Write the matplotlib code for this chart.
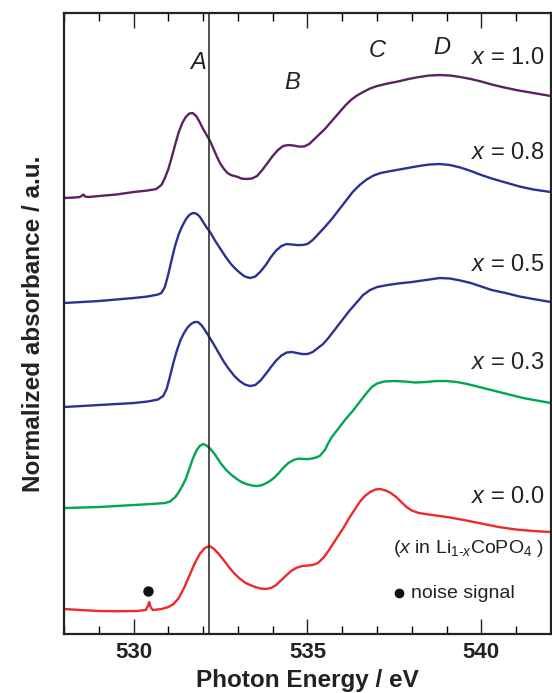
import matplotlib
matplotlib.use("Agg")
import matplotlib.pyplot as plt
from matplotlib.ticker import MultipleLocator

plt.rcParams['font.family'] = ['Liberation Sans', 'DejaVu Sans']
plt.rcParams['mathtext.fontset'] = 'custom'
plt.rcParams['mathtext.rm'] = 'Liberation Sans'
plt.rcParams['mathtext.it'] = 'Liberation Sans:italic'
plt.rcParams['mathtext.bf'] = 'Liberation Sans:bold'

# ---- data (photon energy in eV, normalized absorbance incl. vertical offsets, a.u.) ----
e_10 = [528.0, 528.3, 528.45, 528.52, 528.56, 528.6, 528.7, 529.0, 529.5, 530.0, 530.4, 530.65,
        530.8, 530.9, 531.0, 531.1, 531.2, 531.3, 531.4, 531.5, 531.6, 531.7, 531.8, 531.9,
        532.0, 532.1, 532.2, 532.3, 532.4, 532.5, 532.6, 532.7, 532.8, 532.9, 533.0, 533.1,
        533.25, 533.4, 533.55, 533.7, 533.85, 534.0, 534.15, 534.3, 534.45, 534.6, 534.75,
        534.9, 535.05, 535.2, 535.35, 535.5, 535.65, 535.8, 535.95, 536.1, 536.25, 536.4,
        536.6, 536.8, 537.0, 537.3, 537.6, 537.9, 538.2, 538.5, 538.8, 539.1, 539.4, 539.7,
        540.0, 540.3, 540.6, 541.0, 541.5, 542.0]
a_10 = [4.36, 4.365, 4.37, 4.385, 4.395, 4.375, 4.37, 4.38, 4.395, 4.42, 4.435, 4.45,
        4.49, 4.56, 4.65, 4.77, 4.90, 5.02, 5.11, 5.17, 5.205, 5.21, 5.18, 5.12,
        5.05, 4.99, 4.93, 4.85, 4.77, 4.70, 4.65, 4.61, 4.59, 4.58, 4.57, 4.555,
        4.55, 4.555, 4.58, 4.64, 4.71, 4.78, 4.84, 4.88, 4.89, 4.885, 4.875,
        4.875, 4.90, 4.95, 5.00, 5.05, 5.11, 5.17, 5.23, 5.29, 5.34, 5.38,
        5.42, 5.455, 5.48, 5.505, 5.525, 5.55, 5.57, 5.585, 5.59, 5.585, 5.57, 5.55,
        5.525, 5.495, 5.47, 5.44, 5.41, 5.38]

e_08 = [528.0, 528.5, 529.0, 529.5, 530.0, 530.4, 530.7, 530.8, 530.9, 531.0, 531.1, 531.2,
        531.3, 531.4, 531.5, 531.6, 531.7, 531.8, 531.9, 532.0, 532.1, 532.2, 532.35, 532.5,
        532.65, 532.8, 532.95, 533.1, 533.2, 533.35, 533.5, 533.65, 533.8, 533.95, 534.1,
        534.25, 534.4, 534.55, 534.7, 534.85, 535.0, 535.15, 535.3, 535.5, 535.7, 535.9,
        536.1, 536.3, 536.5, 536.7, 536.9, 537.1, 537.4, 537.8, 538.2, 538.5, 538.8, 539.1,
        539.4, 539.7, 540.0, 540.3, 540.7, 541.1, 541.5, 542.0]
a_08 = [3.31, 3.32, 3.33, 3.345, 3.36, 3.375, 3.395, 3.41, 3.47, 3.60, 3.75, 3.89,
        4.00, 4.08, 4.145, 4.19, 4.21, 4.205, 4.175, 4.12, 4.065, 4.02, 3.93, 3.85,
        3.77, 3.70, 3.645, 3.60, 3.575, 3.56, 3.575, 3.625, 3.69, 3.77, 3.835,
        3.88, 3.90, 3.895, 3.89, 3.89, 3.90, 3.94, 3.995, 4.07, 4.15, 4.24,
        4.33, 4.42, 4.49, 4.545, 4.585, 4.61, 4.63, 4.655, 4.68, 4.695, 4.70, 4.69,
        4.665, 4.63, 4.59, 4.555, 4.515, 4.475, 4.445, 4.42]

e_05 = [528.0, 528.5, 529.0, 529.5, 530.0, 530.4, 530.7, 530.85, 530.95, 531.05, 531.15,
        531.25, 531.35, 531.45, 531.55, 531.65, 531.75, 531.85, 531.95, 532.05, 532.15,
        532.3, 532.45, 532.6, 532.75, 532.9, 533.05, 533.2, 533.35, 533.5, 533.65, 533.8,
        533.95, 534.1, 534.25, 534.4, 534.55, 534.7, 534.85, 535.0, 535.15, 535.3, 535.45,
        535.6, 535.8, 536.0, 536.2, 536.4, 536.6, 536.8, 537.0, 537.3, 537.6, 538.0, 538.4,
        538.8, 539.1, 539.4, 539.7, 540.0, 540.3, 540.7, 541.1, 541.5, 542.0]
a_05 = [2.27, 2.28, 2.29, 2.30, 2.31, 2.325, 2.345, 2.38, 2.45, 2.58, 2.72,
        2.84, 2.94, 3.01, 3.065, 3.10, 3.12, 3.12, 3.09, 3.04, 2.985,
        2.90, 2.81, 2.72, 2.645, 2.58, 2.53, 2.495, 2.48, 2.49, 2.535, 2.60,
        2.67, 2.735, 2.785, 2.815, 2.82, 2.81, 2.80, 2.80, 2.82, 2.86, 2.90,
        2.96, 3.05, 3.14, 3.23, 3.31, 3.39, 3.44, 3.47, 3.49, 3.505, 3.52, 3.54,
        3.56, 3.555, 3.535, 3.51, 3.475, 3.44, 3.41, 3.375, 3.35, 3.32]

e_03 = [528.0, 528.5, 529.0, 529.5, 530.0, 530.5, 530.9, 531.05, 531.2, 531.3, 531.4, 531.5,
        531.6, 531.7, 531.8, 531.9, 532.0, 532.1, 532.2, 532.35, 532.5, 532.65, 532.8, 532.95,
        533.1, 533.25, 533.4, 533.55, 533.7, 533.85, 534.0, 534.15, 534.3, 534.45, 534.6,
        534.75, 534.9, 535.05, 535.2, 535.35, 535.5, 535.6, 535.7, 535.9, 536.1, 536.3, 536.5,
        536.7, 536.85, 537.0, 537.2, 537.5, 537.8, 538.1, 538.4, 538.7, 539.0, 539.3, 539.6,
        540.0, 540.4, 540.8, 541.2, 541.6, 542.0]
a_03 = [1.26, 1.265, 1.27, 1.28, 1.29, 1.30, 1.31, 1.325, 1.37, 1.42, 1.48, 1.55,
        1.65, 1.75, 1.83, 1.88, 1.90, 1.885, 1.855, 1.79, 1.71, 1.645, 1.595, 1.555,
        1.52, 1.50, 1.485, 1.48, 1.49, 1.515, 1.55, 1.60, 1.66, 1.71, 1.74,
        1.755, 1.75, 1.75, 1.76, 1.78, 1.84, 1.91, 1.97, 2.06, 2.15, 2.23, 2.32,
        2.41, 2.47, 2.505, 2.525, 2.53, 2.525, 2.515, 2.52, 2.53, 2.53, 2.52, 2.50,
        2.465, 2.43, 2.395, 2.36, 2.335, 2.31]

e_00 = [528.0, 528.5, 529.0, 529.5, 530.08, 530.35, 530.41, 530.45, 530.49, 530.55, 530.8,
        531.0, 531.15, 531.3, 531.45, 531.6, 531.75, 531.9, 532.05, 532.18, 532.3, 532.45,
        532.6, 532.75, 532.9, 533.05, 533.2, 533.35, 533.5, 533.65, 533.8, 533.95, 534.1,
        534.25, 534.4, 534.55, 534.7, 534.85, 535.0, 535.15, 535.3, 535.45, 535.6, 535.75,
        535.9, 536.05, 536.2, 536.35, 536.5, 536.65, 536.8, 536.95, 537.1, 537.25, 537.4,
        537.55, 537.7, 537.85, 538.0, 538.2, 538.5, 538.8, 539.1, 539.5, 540.0, 540.5, 541.0,
        541.5, 542.0]
a_00 = [0.25, 0.24, 0.23, 0.228, 0.23, 0.24, 0.28, 0.32, 0.27, 0.24, 0.25,
        0.27, 0.30, 0.36, 0.46, 0.58, 0.70, 0.80, 0.86, 0.88, 0.855, 0.80,
        0.735, 0.665, 0.605, 0.555, 0.515, 0.49, 0.47, 0.455, 0.45, 0.46, 0.49,
        0.54, 0.59, 0.635, 0.665, 0.68, 0.685, 0.69, 0.71, 0.76, 0.83, 0.91,
        0.99, 1.07, 1.16, 1.24, 1.32, 1.38, 1.42, 1.445, 1.45, 1.435, 1.41,
        1.37, 1.32, 1.27, 1.235, 1.21, 1.195, 1.18, 1.165, 1.14, 1.105, 1.07, 1.045,
        1.03, 1.02]

series_labels = ["1.0", "0.8", "0.5", "0.3", "0.0"]
label_y = [5.76, 4.81, 3.69, 2.71, 1.37]
colors = ["#5b2262", "#2b3193", "#2b3193", "#00a651", "#ed2a2a"]

peak_names = ["A", "B", "C", "D"]
peak_x = [531.85, 534.56, 537.0, 538.87]
peak_y = [5.72, 5.52, 5.84, 5.87]

vline_e = 532.18
noise_e, noise_a = 530.42, 0.43

fig = plt.figure(figsize=(5.52, 6.93), dpi=100)
ax = fig.add_axes([0.116, 0.0851, 0.882, 0.8961])

curves = [(e_10, a_10), (e_08, a_08), (e_05, a_05), (e_03, a_03), (e_00, a_00)]
for (e, a), c in zip(curves, colors):
    ax.plot(e, a, color=c, lw=1.7, solid_joinstyle='round', solid_capstyle='round')

ax.axvline(vline_e, color='#222222', lw=1.1)

for lab, y in zip(series_labels, label_y):
    ax.text(541.82, y, r"$x$ = " + lab, ha='right', va='center', fontsize=17, color='#222222')

for name, px, py in zip(peak_names, peak_x, peak_y):
    ax.text(px, py, name, ha='center', va='center', fontsize=17, style='italic', color='#222222')

ax.text(541.82, 0.86, r"($x$ in Li$_{\mathrm{1\text{-}}x}$CoPO$_4$ )", ha='right', va='center',
        fontsize=14, color='#222222')
ax.plot([537.64], [0.41], 'o', color='#111111', ms=6)
ax.text(537.98, 0.41, "noise signal", ha='left', va='center', fontsize=14, color='#222222')
ax.plot([noise_e], [noise_a], 'o', color='#111111', ms=6.5)

ax.set_xlim(528, 542)
ax.set_ylim(0, 6.21)
ax.xaxis.set_major_locator(MultipleLocator(5))
ax.xaxis.set_minor_locator(MultipleLocator(1))
ax.set_yticks([])
ax.tick_params(axis='x', which='major', direction='in', length=11, width=1.0, top=True,
               labelsize=16, pad=6, colors='#222222')
ax.tick_params(axis='x', which='minor', direction='in', length=5.5, width=1.0, top=True)
for lbl in ax.get_xticklabels():
    lbl.set_fontweight('bold')
for s in ax.spines.values():
    s.set_linewidth(1.6)
    s.set_color('#222222')

ax.set_xlabel("Photon Energy / eV", fontsize=17.5, fontweight='bold', color='#222222', labelpad=4)
ax.set_ylabel("Normalized absorbance / a.u.", fontsize=17.5, fontweight='bold', color='#222222',
              labelpad=14)

fig.savefig("out.png", dpi=100)
